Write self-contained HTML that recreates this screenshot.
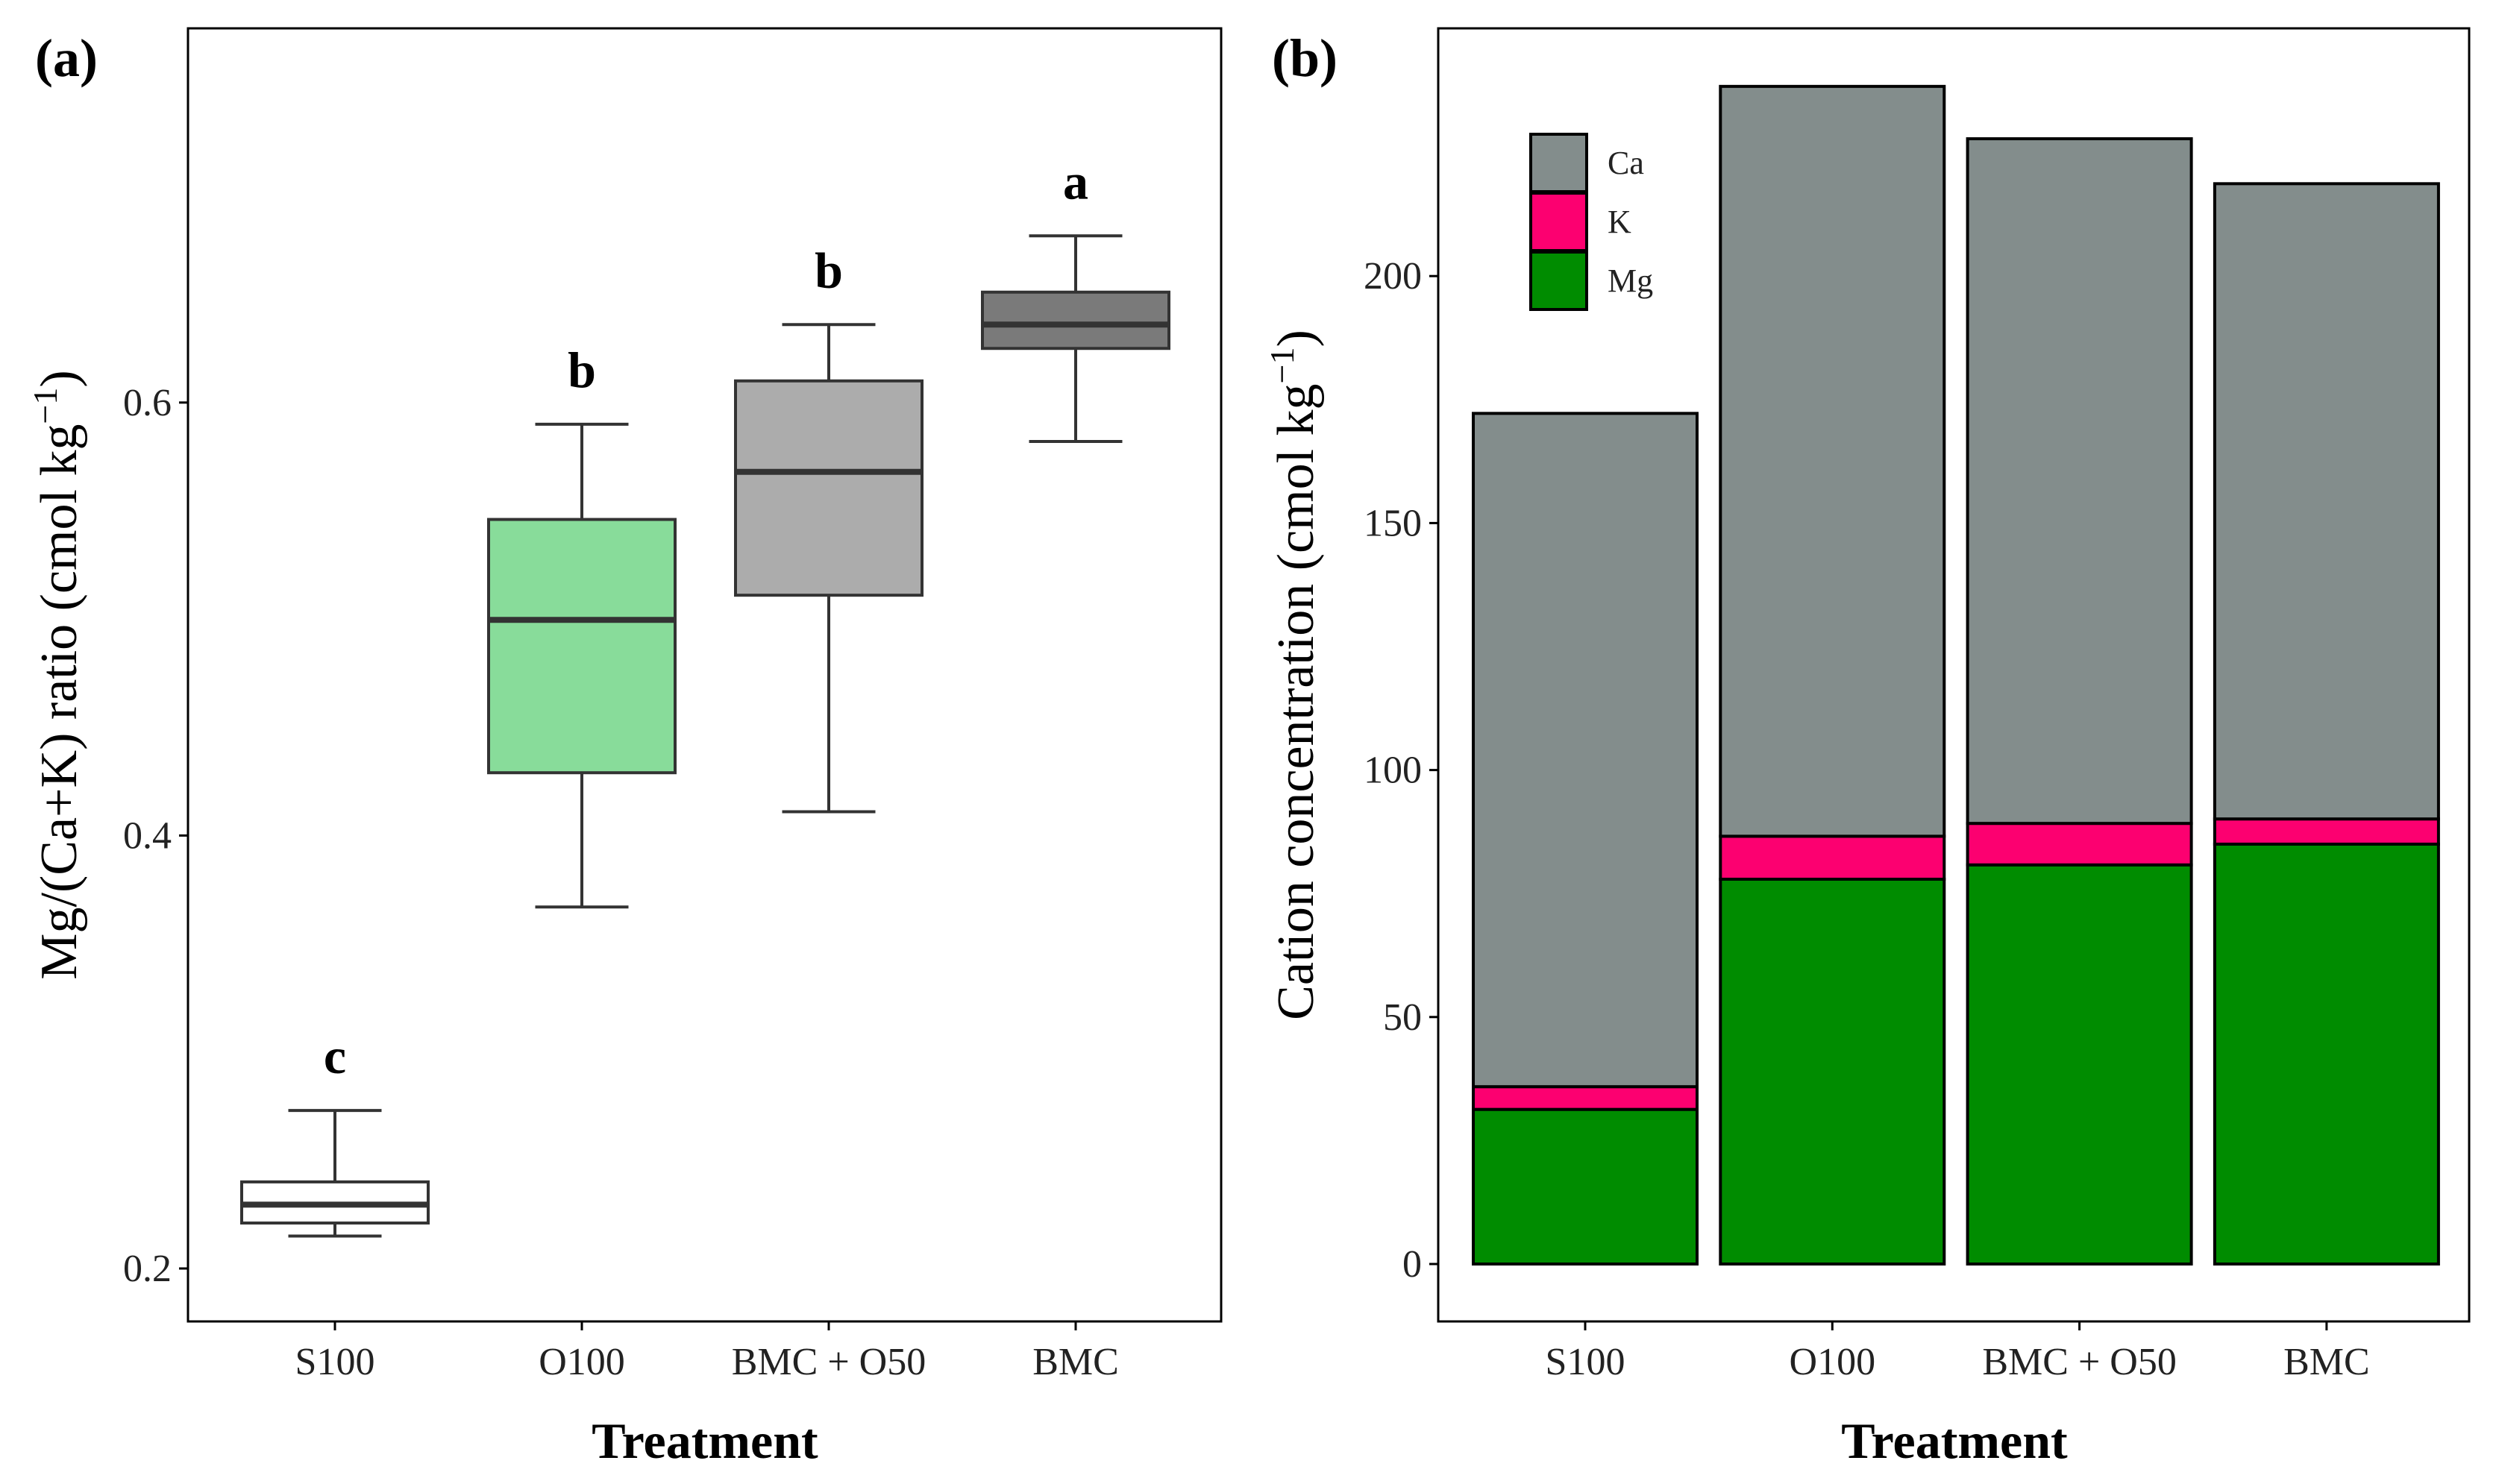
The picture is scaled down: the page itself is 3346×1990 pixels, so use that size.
<!DOCTYPE html>
<html><head><meta charset="utf-8"><style>
html,body{margin:0;padding:0;background:#fff}
svg{display:block;font-family:"Liberation Serif",serif}
</style></head><body>
<svg id="fig" width="3346" height="1990" viewBox="0 0 3346 1990"></svg>
<script>
const categories = ["S100","O100","BMC + O50","BMC"];
const boxWhiskerLow = [0.215,0.367,0.411,0.582];
const boxQ1 = [0.221,0.429,0.511,0.625];
const boxMedian = [0.2295,0.4996,0.568,0.636];
const boxQ3 = [0.240,0.546,0.610,0.651];
const boxWhiskerHigh = [0.273,0.590,0.636,0.677];
const sigLetters = ["c","b","b","a"];
const boxFills = ["#ffffff","#88dc9a","#acacac","#7a7a7a"];
const ratioTicks = [0.2,0.4,0.6];
const mgValues = [31.3,77.9,80.8,85.0];
const kValues = [4.6,8.7,8.4,5.1];
const caValues = [136.3,151.8,138.6,128.6];
const cationTicks = [0,50,100,150,200];
const seriesNames = ["Ca","K","Mg"];
const seriesColors = {Ca:"#838d8c",K:"#fc0070",Mg:"#008c00"};

const NS="http://www.w3.org/2000/svg";
const svg=document.getElementById('fig');
function mk(tag,attrs,parent,text){const e=document.createElementNS(NS,tag);for(const k in attrs)e.setAttribute(k,attrs[k]);if(text!==undefined)e.textContent=text;(parent||svg).appendChild(e);return e;}
const TICK=52, TITLE=70, XT=68;

// Panel A
const aL=252,aR=1637,aT=38,aB=1772;
const xA=i=>449+i*331;
const yA=v=>1701-(v-0.2)*2903;
const gA=mk('g',{});


let t=mk('text',{x:47,y:102,'font-size':72,'font-weight':'bold'},gA,'(a)');

let fr=mk('path',{d:`M${aL} ${aT}V${aB}H${aR}V${aT}Z`,fill:'none',stroke:'#000','stroke-width':3},gA);

ratioTicks.forEach(v=>{
  mk('line',{x1:aL-12,x2:aL,y1:yA(v),y2:yA(v),stroke:'#000','stroke-width':3},gA);
  const e=mk('text',{x:aL-22,y:yA(v)+17,'font-size':TICK,'text-anchor':'end',fill:'#222'},gA,v.toFixed(1));
  
});
categories.forEach((c,i)=>{
  const x=xA(i),w=250;
  mk('line',{x1:x,x2:x,y1:aB,y2:aB+12,stroke:'#000','stroke-width':3},gA);
  const lab=mk('text',{x:x,y:1843,'font-size':TICK,'text-anchor':'middle',fill:'#222'},gA,c);
  
  const g=mk('g',{},gA);
  
  
  mk('line',{x1:x,x2:x,y1:yA(boxWhiskerHigh[i]),y2:yA(boxQ3[i]),stroke:'#333','stroke-width':4},g);
  mk('line',{x1:x,x2:x,y1:yA(boxQ1[i]),y2:yA(boxWhiskerLow[i]),stroke:'#333','stroke-width':4},g);
  mk('line',{x1:x-w/4,x2:x+w/4,y1:yA(boxWhiskerHigh[i]),y2:yA(boxWhiskerHigh[i]),stroke:'#333','stroke-width':4},g);
  mk('line',{x1:x-w/4,x2:x+w/4,y1:yA(boxWhiskerLow[i]),y2:yA(boxWhiskerLow[i]),stroke:'#333','stroke-width':4},g);
  mk('rect',{x:x-w/2,y:yA(boxQ3[i]),width:w,height:yA(boxQ1[i])-yA(boxQ3[i]),fill:boxFills[i],stroke:'#333','stroke-width':4},g);
  mk('line',{x1:x-w/2,x2:x+w/2,y1:yA(boxMedian[i]),y2:yA(boxMedian[i]),stroke:'#333','stroke-width':8},g);
  const s=mk('text',{x:x,y:yA(boxWhiskerHigh[i])-50,'font-size':68,'font-weight':'bold','text-anchor':'middle'},gA,sigLetters[i]);
  
});
t=mk('text',{x:0,y:0,'font-size':TITLE,'text-anchor':'middle',transform:'translate(102,905) rotate(-90)'},gA);

t.innerHTML='Mg/(Ca+K) ratio (cmol kg<tspan dy="-26" font-size="46">−1</tspan><tspan dy="26">)</tspan>';
t=mk('text',{x:945,y:1955,'font-size':XT,'font-weight':'bold','text-anchor':'middle'},gA,'Treatment');


// Panel B
const bL=1928,bR=3310,bT=38,bB=1772;
const xB=i=>2125+i*331.3;
const yB=v=>1695-v*6.624;
const gB=mk('g',{});


t=mk('text',{x:1705,y:102,'font-size':72,'font-weight':'bold'},gB,'(b)');

fr=mk('path',{d:`M${bL} ${bT}V${bB}H${bR}V${bT}Z`,fill:'none',stroke:'#000','stroke-width':3},gB);

cationTicks.forEach(v=>{
  mk('line',{x1:bL-12,x2:bL,y1:yB(v),y2:yB(v),stroke:'#000','stroke-width':3},gB);
  const e=mk('text',{x:bL-22,y:yB(v)+17,'font-size':TICK,'text-anchor':'end',fill:'#222'},gB,String(v));
  
});
categories.forEach((c,i)=>{
  const x=xB(i),w=300;
  mk('line',{x1:x,x2:x,y1:bB,y2:bB+12,stroke:'#000','stroke-width':3},gB);
  const lab=mk('text',{x:x,y:1843,'font-size':TICK,'text-anchor':'middle',fill:'#222'},gB,c);
  
  const segs=[['Mg',mgValues[i]],['K',kValues[i]],['Ca',caValues[i]]];
  let base=0;
  segs.forEach(([n,v])=>{
    const r=mk('rect',{x:x-w/2,y:yB(base+v),width:w,height:yB(base)-yB(base+v),fill:seriesColors[n],stroke:'#000','stroke-width':4},gB);
    
    
    base+=v;
  });
});
seriesNames.forEach((n,i)=>{
  const g=mk('g',{},gB);
  
  
  const y=180+i*79;
  mk('rect',{x:2052,y:y,width:75,height:77,fill:seriesColors[n],stroke:'#000','stroke-width':4},g);
  mk('text',{x:2155,y:y+53,'font-size':44,fill:'#222'},g,n);
});
t=mk('text',{x:0,y:0,'font-size':TITLE,'text-anchor':'middle',transform:'translate(1760,905) rotate(-90)'},gB);

t.innerHTML='Cation concentration (cmol kg<tspan dy="-26" font-size="46">−1</tspan><tspan dy="26">)</tspan>';
t=mk('text',{x:2620,y:1955,'font-size':XT,'font-weight':'bold','text-anchor':'middle'},gB,'Treatment');

</script>
</body></html>
